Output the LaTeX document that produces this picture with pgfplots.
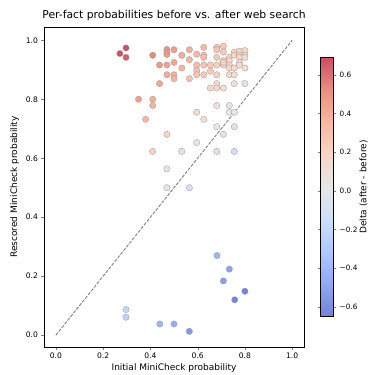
\documentclass[border=0pt]{standalone}
\usepackage{pgfplots}
\pgfplotsset{compat=1.18}
\usepackage{fontspec}
\setmainfont{DejaVu Sans}
\pgfplotsset{
 colormap={cw}{rgb255(0)=(118,130,211) rgb255(1)=(145,168,240) rgb255(2)=(175,200,254) rgb255(3)=(205,222,251) rgb255(4)=(231,231,231) rgb255(5)=(248,214,198) rgb255(6)=(247,184,163) rgb255(7)=(232,144,130) rgb255(8)=(202,79,103)}
}
\begin{document}
\begin{tikzpicture}
\begin{axis}[name=main, scale only axis, width=260pt, height=320pt,
 xmin=-0.05, xmax=1.05, ymin=-0.04, ymax=1.045,
 xtick={0,0.2,0.4,0.6,0.8,1}, xticklabels={0.0,0.2,0.4,0.6,0.8,1.0},
 ytick={0,0.2,0.4,0.6,0.8,1}, yticklabels={0.0,0.2,0.4,0.6,0.8,1.0},
 tick align=outside, xtick pos=bottom, ytick pos=left,
 major tick length=2.6pt,
 ticklabel style={font=\fontsize{7.6}{9}\selectfont},
 label style={font=\fontsize{9}{11}\selectfont},
 xlabel style={yshift=2pt},
 title style={font=\fontsize{10.8}{13}\selectfont, yshift=-3pt},
 title={Per-fact probabilities before vs. after web search},
 xlabel={Initial MiniCheck probability},
 ylabel={Rescored MiniCheck probability},
 colormap name=cw,
 point meta min=-0.65, point meta max=0.69,
 colorbar,
 colorbar style={scale only axis, width=13pt, height=259pt,
   at={(parent axis.east)}, anchor=west, xshift=8pt,
   ytick={-0.6,-0.4,-0.2,0,0.2,0.4,0.6},
   yticklabels={−0.6,−0.4,−0.2,0.0,0.2,0.4,0.6},
   tick align=outside, major tick length=2.6pt,
   yticklabel pos=right,
   ylabel={Delta (after - before)},
   ylabel style={at={(axis description cs:3.3,0.5)}, anchor=center},
   ticklabel style={font=\fontsize{7.3}{9}\selectfont},
   label style={font=\fontsize{9}{11}\selectfont}},
]
\addplot[scatter, only marks, mark=*, mark size=3.2pt, line width=0.3pt,
 scatter/use mapped color={draw=gray!80, fill=mapped color},
 point meta={\thisrow{y}-\thisrow{x}}] table {
x y
0.297 0.974
0.271 0.955
0.297 0.942
0.41 0.949
0.47 0.969
0.47 0.959
0.47 0.952
0.50 0.968
0.533 0.949
0.565 0.968
0.596 0.953
0.626 0.976
0.626 0.949
0.626 0.942
0.681 0.976
0.681 0.968
0.709 0.98
0.709 0.96
0.681 0.942
0.734 0.942
0.734 0.931
0.709 0.931
0.755 0.96
0.755 0.949
0.777 0.963
0.777 0.949
0.777 0.942
0.80 0.965
0.80 0.949
0.80 0.942
0.439 0.916
0.47 0.916
0.50 0.925
0.533 0.906
0.565 0.934
0.596 0.916
0.626 0.916
0.654 0.916
0.681 0.916
0.709 0.916
0.709 0.925
0.734 0.916
0.734 0.906
0.755 0.906
0.777 0.925
0.777 0.916
0.80 0.906
0.47 0.883
0.50 0.883
0.50 0.87
0.565 0.87
0.596 0.897
0.596 0.883
0.626 0.883
0.654 0.895
0.681 0.883
0.734 0.883
0.755 0.883
0.439 0.853
0.681 0.853
0.654 0.838
0.681 0.838
0.709 0.838
0.755 0.853
0.80 0.853
0.35 0.80
0.41 0.80
0.41 0.779
0.38 0.732
0.681 0.779
0.734 0.779
0.596 0.756
0.734 0.756
0.755 0.756
0.626 0.732
0.47 0.681
0.681 0.707
0.755 0.707
0.709 0.681
0.596 0.653
0.41 0.623
0.533 0.623
0.681 0.623
0.755 0.623
0.47 0.564
0.47 0.50
0.565 0.50
0.682 0.27
0.734 0.224
0.709 0.184
0.80 0.149
0.757 0.12
0.565 0.013
0.297 0.087
0.297 0.061
0.44 0.038
0.50 0.038
};
\addplot[gray, line width=0.9pt, dash pattern=on 3.3pt off 1.4pt] coordinates {(0,0) (1,1)};
\end{axis}
\pgfresetboundingbox
\path[use as bounding box] (main.north west) ++(-44pt,27pt) rectangle ++(373pt,-375pt);
\end{tikzpicture}
\end{document}
